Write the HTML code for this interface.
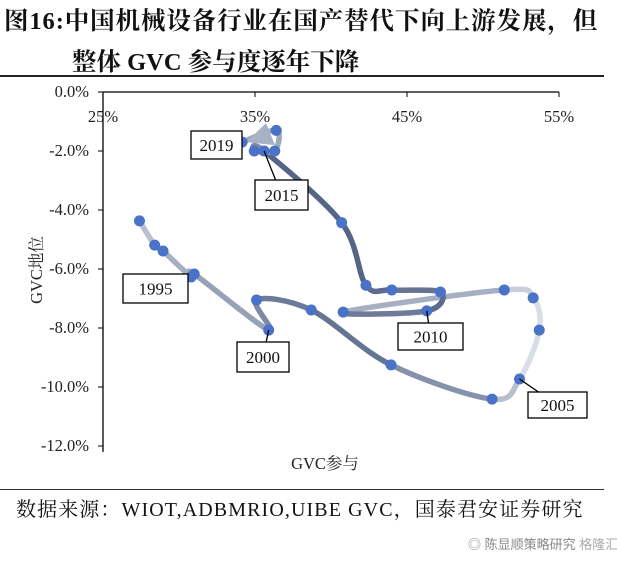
<!DOCTYPE html>
<html><head><meta charset="utf-8"><style>
html,body{margin:0;padding:0;background:#fff;}
body{width:617px;height:571px;overflow:hidden;position:relative;font-family:"Liberation Serif","Noto Serif CJK SC",serif;}
.t{position:absolute;font-weight:bold;font-size:24.5px;color:#111;white-space:nowrap;}
</style></head><body>
<div class="t" style="left:4px;top:2px;letter-spacing:0.9px;">图16:中国机械设备行业在国产替代下向上游发展，但</div>
<div class="t" style="left:72px;top:43px;">整体 GVC 参与度逐年下降</div>
<div style="position:absolute;left:0;top:75px;width:604px;height:2px;background:#222;"></div>
<svg id="chart" width="617" height="571" style="position:absolute;left:0;top:0;font-family:'Liberation Serif','Noto Serif CJK SC',serif;"></svg>
<div style="position:absolute;left:0;top:489px;width:604px;height:1px;background:#333;"></div>
<div style="position:absolute;left:16px;top:493px;font-size:20px;letter-spacing:1.1px;color:#111;white-space:nowrap;">数据来源：WIOT,ADBMRIO,UIBE GVC，国泰君安证券研究</div>
<div style="position:absolute;left:468px;top:534px;font-size:13px;color:#888;white-space:nowrap;font-family:'Liberation Sans','Noto Sans CJK SC',sans-serif;">◎ 陈显顺策略研究 <span style="color:#aaa">格隆汇</span></div>
<script>
const years=[1995,1996,1997,1998,1999,2000,2001,2002,2003,2004,2005,2006,2007,2008,2009,2010,2011,2012,2013,2014,2015,2016,2017,2018,2019];
const gvcPart=[27.4,28.4,28.95,30.8,31.0,35.9,35.1,38.7,43.95,50.6,52.4,53.7,53.3,51.4,40.8,46.3,47.2,44.0,42.3,40.7,35.6,34.95,36.3,36.4,34.15];
const gvcPos=[-4.37,-5.19,-5.39,-6.27,-6.17,-8.07,-7.05,-7.39,-9.25,-10.41,-9.73,-8.07,-6.98,-6.71,-7.46,-7.42,-6.78,-6.71,-6.55,-4.43,-2.0,-2.0,-2.0,-1.3,-1.7];
const segShade=[0.25,0.3,0.35,0.4,0.45,0.6,0.7,0.75,0.55,0.25,0.05,0.05,0.15,0.35,0.7,0.8,0.75,0.8,0.85,0.85,0.6,0.5,0.4,0.4];
const xTicks=[25,35,45,55];
const yTicks=[0,-2,-4,-6,-8,-10,-12];
const labelYears=[1995,2000,2005,2010,2015,2019];
const labelBoxes=[[123,274,65,29],[237,342,52,30],[528,392,59,26],[398,323,65,27],[255,180,53,30],[191,131,51,28]];
const labelLeader=[false,true,true,true,true,false];

const svg=document.getElementById('chart');const NS='http://www.w3.org/2000/svg';
const X=v=>103+(v-25)*15.2, Y=v=>92-v*29.5;
function mk(t,a,p){const e=document.createElementNS(NS,t);for(const k in a)e.setAttribute(k,a[k]);(p||svg).appendChild(e);return e;}
let ax=mk('line',{x1:X(25),y1:Y(0),x2:X(55),y2:Y(0),stroke:'#000','stroke-width':1.3});


let ay=mk('line',{x1:X(25),y1:Y(0),x2:X(25),y2:Y(-12.2),stroke:'#000','stroke-width':1.3});


xTicks.forEach(v=>{mk('line',{x1:X(v),y1:Y(0),x2:X(v),y2:Y(0)+5,stroke:'#000'});
 const t=mk('text',{x:X(v),y:122,'text-anchor':'middle','font-size':16.5,fill:'#222'});t.textContent=v+'%';
 
 });
yTicks.forEach(v=>{mk('line',{x1:X(25)-5,y1:Y(v),x2:X(25),y2:Y(v),stroke:'#000'});
 const t=mk('text',{x:89,y:Y(v)+5,'text-anchor':'end','font-size':16.5,fill:'#222'});t.textContent=v.toFixed(1)+'%';
 
 });
let xl=mk('text',{x:325,y:469,'text-anchor':'middle','font-size':16.5,fill:'#222'});xl.textContent='GVC参与';


let yl=mk('text',{x:0,y:0,'text-anchor':'middle','font-size':16.5,fill:'#222',transform:'translate(42,270) rotate(-90)'});yl.textContent='GVC地位';


const P=gvcPart.map((v,i)=>[X(v),Y(gvcPos[i])]);
function col(s){const a=[225,228,238],b=[60,78,115];return 'rgb('+a.map((c,i)=>Math.round(c+(b[i]-c)*s)).join(',')+')';}
for(let i=0;i<P.length-1;i++){
 const p0=P[Math.max(i-1,0)],p1=P[i],p2=P[i+1],p3=P[Math.min(i+2,P.length-1)];
 const c1=[p1[0]+(p2[0]-p0[0])/6,p1[1]+(p2[1]-p0[1])/6],c2=[p2[0]-(p3[0]-p1[0])/6,p2[1]-(p3[1]-p1[1])/6];
 const s=mk('path',{d:`M${p1[0]},${p1[1]}C${c1[0]},${c1[1]} ${c2[0]},${c2[1]} ${p2[0]},${p2[1]}`,fill:'none',stroke:col(segShade[i]),'stroke-width':5.5,'stroke-linecap':'round'});
 
 
}
const L=P[P.length-1];
let ar=mk('polygon',{points:`${L[0]+4},${L[1]} ${L[0]+24},${L[1]-19} ${L[0]+33},${L[1]+3}`,fill:'#a9b2c4'});


P.forEach((p,i)=>{const c=mk('circle',{cx:p[0],cy:p[1],r:5.5,fill:'#4a72c8'});
 
 });
labelYears.forEach((y,k)=>{const i=years.indexOf(y);const p=P[i];const b=labelBoxes[k];
 const g=mk('g',{});
 
 
 const cx=b[0]+b[2]/2,cy=b[1]+b[3]/2;
 if(labelLeader[k]) mk('line',{x1:p[0],y1:p[1],x2:cx,y2:cy,stroke:'#000','stroke-width':1.3},g);
 mk('rect',{x:b[0],y:b[1],width:b[2],height:b[3],fill:'#fff',stroke:'#000','stroke-width':1.3},g);
 const t=mk('text',{x:cx,y:cy+6,'text-anchor':'middle','font-size':17,fill:'#111'},g);t.textContent=y;});
</script>
</body></html>
